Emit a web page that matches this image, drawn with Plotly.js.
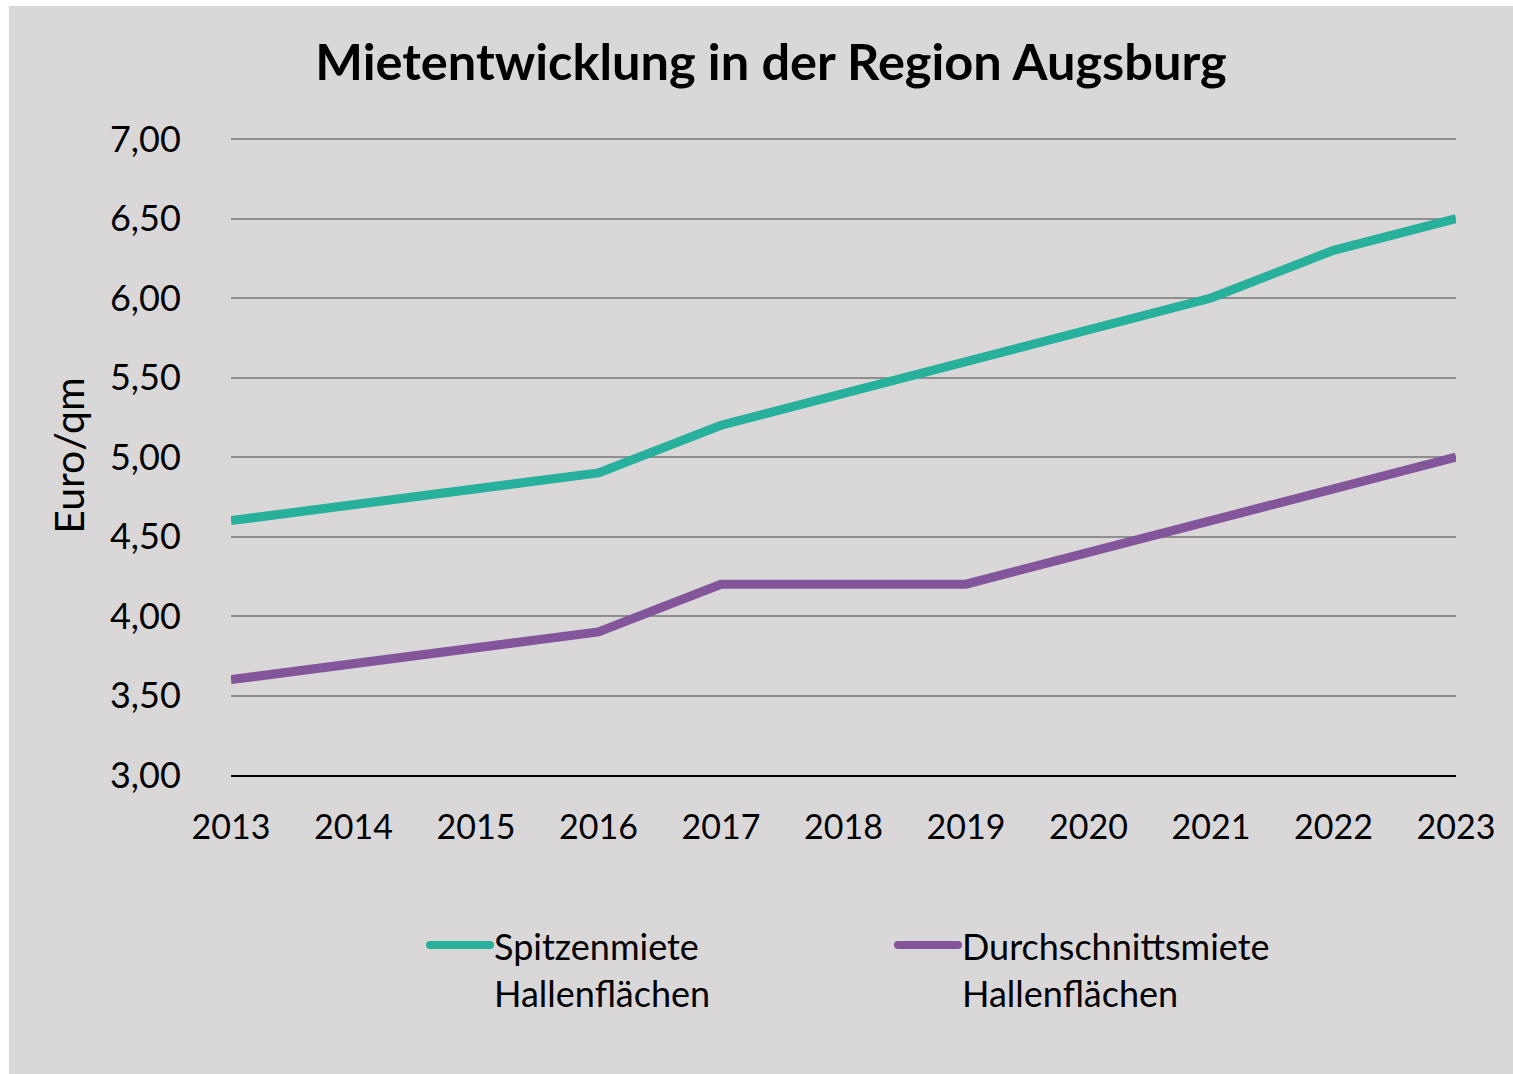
<!DOCTYPE html>
<html>
<head>
<meta charset="utf-8">
<script src="https://cdn.plot.ly/plotly-3.0.1.min.js"></script>
<style>
  html, body { margin: 0; padding: 0; background: #ffffff; }
  #chart { position: absolute; left: 9px; top: 6px; width: 1504px; height: 1068px; }
</style>
</head>
<body>
<div id="chart"></div>
<script>
const years = [2013, 2014, 2015, 2016, 2017, 2018, 2019, 2020, 2021, 2022, 2023];
const spitzenmiete = [4.6, 4.7, 4.8, 4.9, 5.2, 5.4, 5.6, 5.8, 6.0, 6.3, 6.5];
const durchschnittsmiete = [3.6, 3.7, 3.8, 3.9, 4.2, 4.2, 4.2, 4.4, 4.6, 4.8, 5.0];
const yTicks = [3, 3.5, 4, 4.5, 5, 5.5, 6, 6.5, 7];
const yTickLabels = ["3,00", "3,50", "4,00", "4,50", "5,00", "5,50", "6,00", "6,50", "7,00"];
const seriesNames = ["Spitzenmiete<br>Hallenflächen", "Durchschnittsmiete<br>Hallenflächen"];
const seriesColors = ["#27b09b", "#83559a"];

const W = 1504, H = 1068;
const M = { l: 222, r: 57, t: 130, b: 299 };
const PW = W - M.l - M.r, PH = H - M.t - M.b;
// convert page pixel position (div coords) to paper coords for legend decoration
const px = X => (X - M.l) / PW;
const py = Y => 1 - (Y - M.t) / PH;

const font = "Lato, 'Open Sans', sans-serif";
const traces = [
  { x: years, y: spitzenmiete, name: seriesNames[0], mode: "lines",
    line: { color: seriesColors[0], width: 9 } },
  { x: years, y: durchschnittsmiete, name: seriesNames[1], mode: "lines",
    line: { color: seriesColors[1], width: 9 } }
];

// manual legend (symbol line with rounded ends + two-line label)
const legendPos = [{ x0: 421, x1: 481, y: 939 }, { x0: 889, x1: 949, y: 939 }];
const shapes = [];
const annotations = [];
const capR = 4;
legendPos.forEach((p, i) => {
  shapes.push({ type: "line", xref: "paper", yref: "paper",
    x0: px(p.x0), x1: px(p.x1), y0: py(p.y), y1: py(p.y),
    line: { color: seriesColors[i], width: 8 } });
  [p.x0, p.x1].forEach(cx => shapes.push({ type: "circle", xref: "paper", yref: "paper",
    x0: px(cx - capR), x1: px(cx + capR), y0: py(p.y - capR), y1: py(p.y + capR),
    fillcolor: seriesColors[i], line: { width: 0 } }));
  annotations.push({ xref: "paper", yref: "paper", x: px(p.x1 + 2), y: py(p.y + 24),
    xanchor: "left", yanchor: "middle", align: "left", showarrow: false,
    text: seriesNames[i], font: { family: font, size: 36, color: "#000000" } });
});

const layout = {
  width: W, height: H,
  paper_bgcolor: "#d9d7d8", plot_bgcolor: "#d9d7d8",
  margin: M,
  font: { family: font, color: "#000000", size: 33 },
  title: { text: "<b>Mietentwicklung in der Region Augsburg</b>",
    font: { family: font, size: 50.5, color: "#000000" },
    x: (771 - 9) / W, xref: "container", xanchor: "center",
    y: 1 - 56 / H, yref: "container", yanchor: "middle" },
  xaxis: {
    type: "linear", range: [2013, 2023], tickvals: years, ticktext: years.map(String),
    showgrid: false, zeroline: false, showline: true, linecolor: "#000000", linewidth: 2,
    ticks: "outside", ticklen: 21, tickcolor: "rgba(0,0,0,0)",
    tickfont: { family: font, size: 34, color: "#000000" }, fixedrange: true
  },
  yaxis: {
    range: [3, 7.0189], tickvals: yTicks, ticktext: yTickLabels,
    showgrid: true, gridcolor: "#8e8e8e", gridwidth: 2, zeroline: false, showline: false,
    ticks: "outside", ticklen: 42, tickcolor: "rgba(0,0,0,0)",
    tickfont: { family: font, size: 36, color: "#000000" },
    title: { text: "Euro/qm", font: { family: font, size: 41, color: "#000000" }, standoff: 12 },
    fixedrange: true
  },
  showlegend: false,
  shapes: shapes,
  annotations: annotations
};

Plotly.newPlot("chart", traces, layout, { displayModeBar: false, staticPlot: true });
</script>
</body>
</html>
